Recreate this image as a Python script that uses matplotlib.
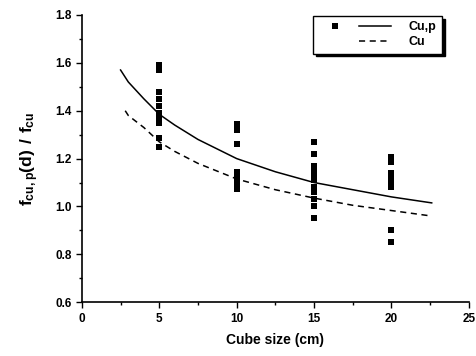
import numpy as np
import matplotlib.pyplot as plt
from matplotlib.lines import Line2D
from matplotlib.legend_handler import HandlerTuple

plt.rcParams['font.family'] = ['Liberation Sans', 'DejaVu Sans']
plt.rcParams['font.weight'] = 'bold'
plt.rcParams['mathtext.fontset'] = 'custom'
plt.rcParams['mathtext.bf'] = 'Liberation Sans:bold'
plt.rcParams['mathtext.rm'] = 'Liberation Sans:bold'
plt.rcParams['mathtext.default'] = 'bf'

# mesures (taille du cube, rapport)
size_5 = [1.59, 1.57, 1.48, 1.45, 1.42, 1.39, 1.37, 1.35, 1.285, 1.25]
size_10 = [1.345, 1.32, 1.26, 1.145, 1.12, 1.096, 1.075]
size_15 = [1.27, 1.22, 1.17, 1.15, 1.13, 1.11, 1.08, 1.06, 1.03, 1.00, 0.95]
size_20 = [1.208, 1.187, 1.14, 1.12, 1.096, 1.083, 0.90, 0.85]

# courbes
x_cup = [2.5, 3, 4, 5, 6, 7.5, 10, 12.5, 15, 17.5, 20, 22.6]
y_cup = [1.57, 1.52, 1.45, 1.385, 1.34, 1.28, 1.20, 1.145, 1.10, 1.07, 1.04, 1.015]
x_cu = [2.8, 3, 4, 5, 6, 7.5, 10, 12.5, 15, 17.5, 20, 22.6]
y_cu = [1.40, 1.38, 1.33, 1.27, 1.23, 1.18, 1.115, 1.07, 1.035, 1.005, 0.983, 0.96]

fig = plt.figure(figsize=(4.76, 3.56), dpi=100)
ax = fig.add_axes([0.172, 0.151, 0.813, 0.807])

for d, vals in zip([5, 10, 15, 20], [size_5, size_10, size_15, size_20]):
    ax.plot([d] * len(vals), vals, 's', color='black', markersize=5, markeredgewidth=0)

ax.plot(x_cup, y_cup, '-', color='black', lw=1.1)
ax.plot(x_cu, y_cu, '--', color='black', lw=1.1, dashes=(4, 3))

ax.set_xlim(0, 25)
ax.set_ylim(0.6, 1.8)
ax.set_xticks([0, 5, 10, 15, 20, 25])
ax.set_xticks(np.arange(0, 25.1, 2.5), minor=True)
ax.set_yticks(np.arange(0.6, 1.81, 0.2))
ax.set_yticks(np.arange(0.6, 1.81, 0.1), minor=True)
ax.yaxis.set_major_formatter(plt.FormatStrFormatter('%.1f'))
ax.tick_params(which='major', direction='out', length=4, width=1, labelsize=8.5)
ax.tick_params(which='minor', direction='out', length=2.5, width=1)
for lab in ax.get_xticklabels() + ax.get_yticklabels():
    lab.set_fontweight('bold')

ax.spines['top'].set_visible(False)
ax.spines['right'].set_visible(False)
ax.spines['left'].set_linewidth(1.2)
ax.spines['bottom'].set_linewidth(1.2)

ax.set_xlabel('Cube size (cm)', fontsize=10, fontweight='bold', labelpad=6)
ax.set_ylabel(r'$f_{cu,p}(d)\ /\ f_{cu}$', fontsize=12.5, labelpad=10)

sq = Line2D([], [], marker='s', ls='none', color='black', markersize=5, markeredgewidth=0)
solid = Line2D([], [], ls='-', color='black', lw=1.1)
blank = Line2D([], [], ls='none')
dash = Line2D([], [], ls='--', color='black', lw=1.1, dashes=(4, 3))
leg = ax.legend([(sq, solid), (blank, dash)], ['Cu,p', 'Cu'],
                handler_map={tuple: HandlerTuple(ndivide=None, pad=0.6)},
                loc='upper left', bbox_to_anchor=(0.597, 0.997),
                handlelength=5.8, fontsize=9, frameon=True, fancybox=False,
                shadow={'color': 'black', 'alpha': 1}, edgecolor='black',
                borderpad=0.45, labelspacing=0.2, handletextpad=1.4,
                borderaxespad=0)
leg.get_frame().set_linewidth(1.0)
for t in leg.get_texts():
    t.set_fontweight('bold')

fig.savefig('out.png', dpi=100)
